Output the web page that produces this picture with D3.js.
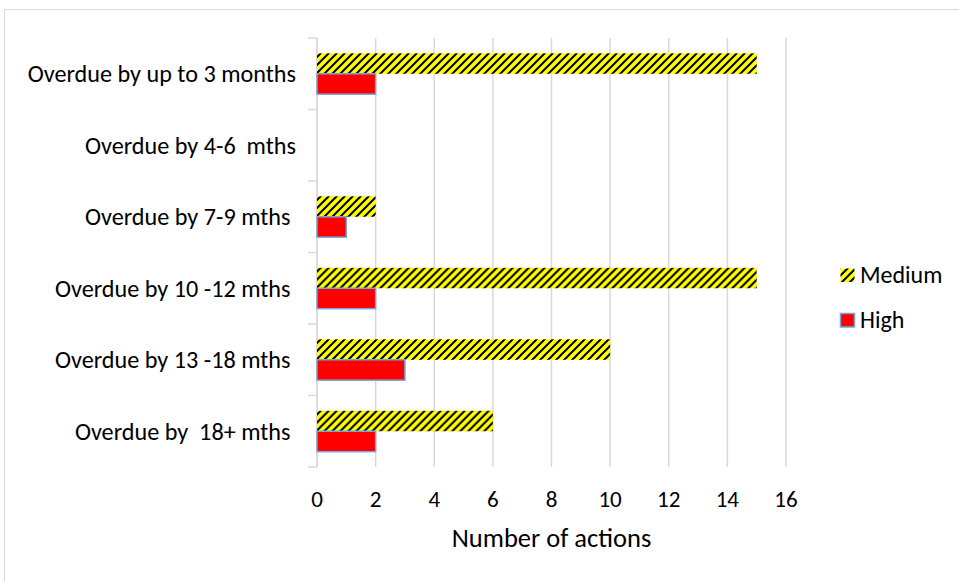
<!DOCTYPE html>
<html>
<head>
<meta charset="utf-8">
<script src="https://cdn.jsdelivr.net/npm/d3@7"></script>
<style>
  html, body { margin: 0; padding: 0; background: #fff; }
  svg { display: block; }
  text { font-family: Carlito, Calibri, Lato, sans-serif; fill: #000; white-space: pre; }
</style>
</head>
<body>
<svg id="chart" width="959" height="581"></svg>
<script>
// ---- data ----
const categories = [
  "Overdue by up to 3 months",
  "Overdue by 4-6  mths",
  "Overdue by 7-9 mths ",
  "Overdue by 10 -12 mths ",
  "Overdue by 13 -18 mths ",
  "Overdue by  18+ mths "
];
const seriesNames = ["Medium", "High"];
const mediumValues = [15, 0, 2, 15, 10, 6];
const highValues = [2, 0, 1, 2, 3, 2];
const xTicks = [0, 2, 4, 6, 8, 10, 12, 14, 16];
const xTitle = "Number of actions";

const seriesValues = { Medium: mediumValues, High: highValues };

// ---- layout ----
const svg = d3.select("#chart");
const plot = { left: 317, right: 786, top: 38, bottom: 467 };

const defs = svg.append("defs");
const pat = defs.append("pattern")
  .attr("id", "hatch")
  .attr("patternUnits", "userSpaceOnUse")
  .attr("width", 8).attr("height", 8);
pat.append("rect").attr("width", 8).attr("height", 8).attr("fill", "#ffff00");
pat.append("path")
  .attr("d", "M-2,2 L2,-2 M0,8 L8,0 M6,10 L10,6")
  .attr("stroke", "#000").attr("stroke-width", 2);

const fills = { Medium: "url(#hatch)", High: "#ff0000" };
const strokes = { Medium: "none", High: "#6fa8dc" };

// outer chart frame
svg.append("rect")
  .attr("x", 4.5).attr("y", 9.5)
  .attr("width", 1000).attr("height", 1000)
  .attr("fill", "none").attr("stroke", "#d9d9d9").attr("stroke-width", 1);

const x = d3.scaleLinear().domain([0, 16]).range([plot.left, plot.right]);
const y = d3.scaleBand().domain(categories).range([plot.top, plot.bottom]).paddingInner(0).paddingOuter(0);
const ySub = d3.scaleBand().domain(seriesNames).range([0, y.bandwidth()]).paddingInner(0).paddingOuter(0.75);

// gridlines
svg.append("g").selectAll("line").data(xTicks).join("line")
  .attr("x1", d => x(d)).attr("x2", d => x(d))
  .attr("y1", plot.top).attr("y2", plot.bottom)
  .attr("stroke", "#d9d9d9").attr("stroke-width", 1.5);

// category axis line and boundary ticks
svg.append("line")
  .attr("x1", plot.left).attr("x2", plot.left)
  .attr("y1", plot.top).attr("y2", plot.bottom)
  .attr("stroke", "#d9d9d9").attr("stroke-width", 1.5);
const bounds = categories.map(c => y(c)).concat([plot.bottom]);
svg.append("g").selectAll("line").data(bounds).join("line")
  .attr("x1", plot.left - 9).attr("x2", plot.left)
  .attr("y1", d => d).attr("y2", d => d)
  .attr("stroke", "#d9d9d9").attr("stroke-width", 1.5);

// bars
const groups = svg.append("g").selectAll("g").data(categories).join("g")
  .attr("transform", d => `translate(0,${y(d)})`);
groups.selectAll("rect")
  .data((c, i) => seriesNames.map(s => ({ s, v: seriesValues[s][i] })).filter(d => d.v > 0))
  .join("rect")
  .attr("x", x(0))
  .attr("y", d => ySub(d.s))
  .attr("width", d => x(d.v) - x(0))
  .attr("height", ySub.bandwidth())
  .attr("fill", d => fills[d.s])
  .attr("stroke", d => strokes[d.s])
  .attr("stroke-width", 1.5);

// category labels
svg.append("g").selectAll("text").data(categories).join("text")
  .attr("x", 296)
  .attr("y", d => y(d) + y.bandwidth() / 2 + 8.5)
  .attr("text-anchor", "end")
  .style("font-size", "24.2px")
  .text(d => d);

// x axis tick labels
svg.append("g").selectAll("text").data(xTicks).join("text")
  .attr("x", d => x(d))
  .attr("y", 507)
  .attr("text-anchor", "middle")
  .style("font-size", "23px")
  .text(d => d);

// axis title
svg.append("text")
  .attr("x", (plot.left + plot.right) / 2)
  .attr("y", 547)
  .attr("text-anchor", "middle")
  .style("font-size", "26.5px")
  .text(xTitle);

// legend
const legendY = { Medium: 268, High: 313 };
const leg = svg.append("g").selectAll("g").data(seriesNames).join("g")
  .attr("transform", d => `translate(840,${legendY[d]})`);
leg.append("rect")
  .attr("x", 0.5).attr("y", 0.5)
  .attr("width", 14).attr("height", 13.5)
  .attr("fill", d => fills[d])
  .attr("stroke", d => strokes[d])
  .attr("stroke-width", 1.5);
leg.append("text")
  .attr("x", 20).attr("y", 14.5)
  .style("font-size", "24px")
  .text(d => d);
</script>
</body>
</html>
